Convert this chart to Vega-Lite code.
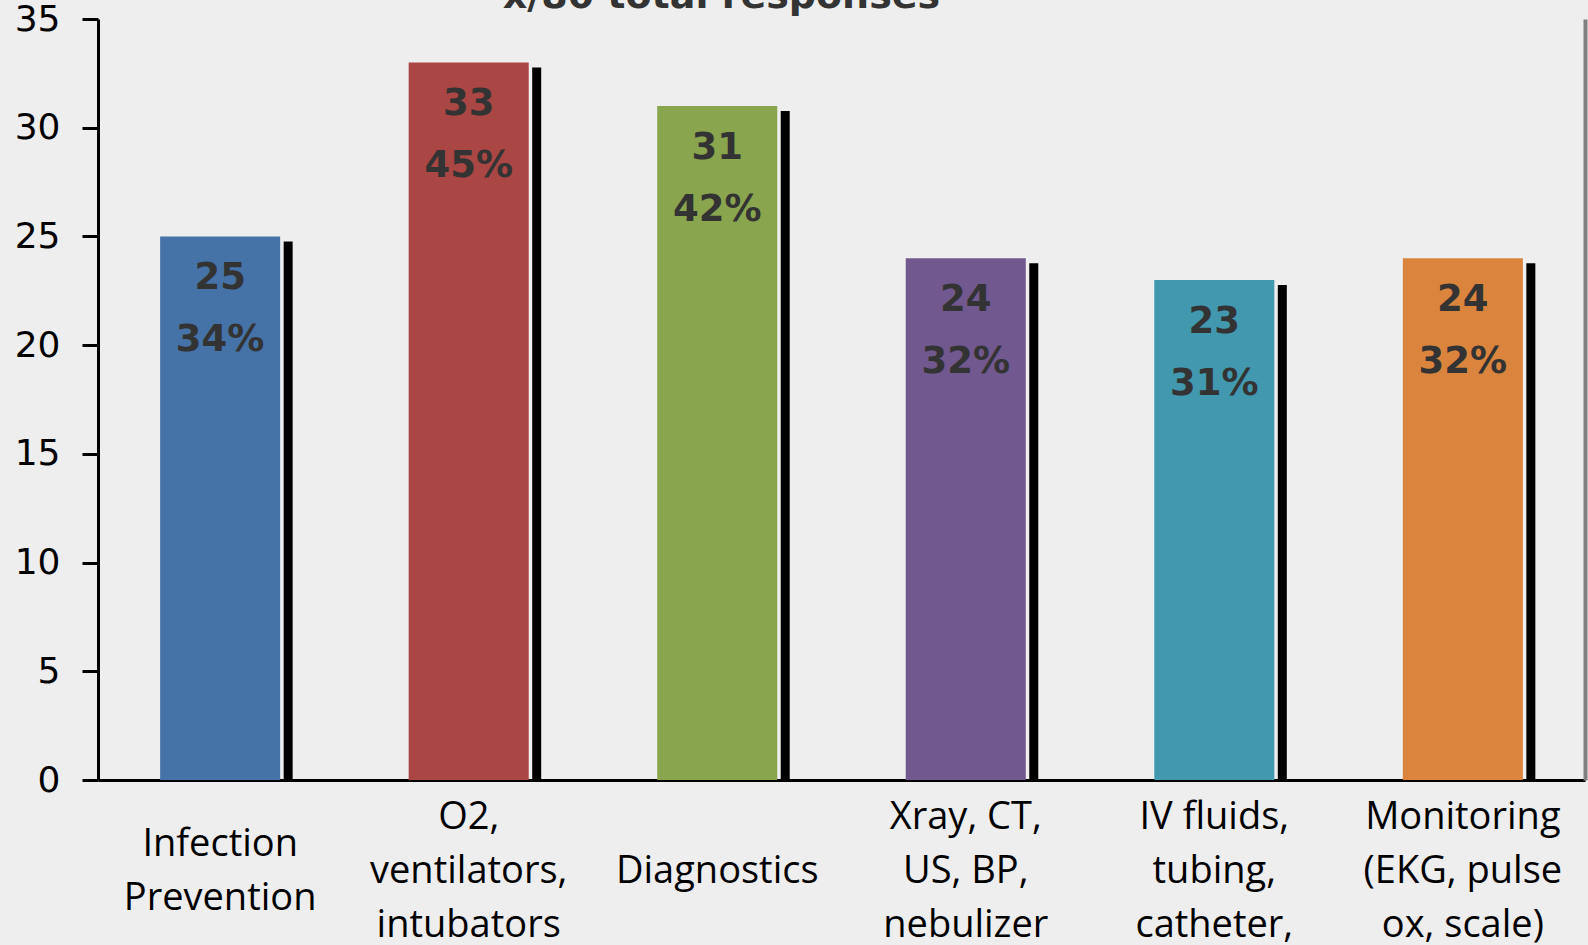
{
  "$schema": "https://vega.github.io/schema/vega-lite/v6.json",
  "width": 1487,
  "height": 761,
  "autosize": {"type": "none"},
  "padding": {"left": 98, "top": 19, "right": 3, "bottom": 165},
  "background": "#eeeeee",
  "config": {"view": {"stroke": null}},
  "title": {
    "text": "x/80 total responses",
    "font": "DejaVu Sans",
    "fontSize": 38,
    "fontWeight": "bold",
    "color": "#333333",
    "anchor": "middle",
    "frame": "group",
    "dx": -120,
    "dy": 45,
    "offset": 0,
    "baseline": "alphabetic"
  },
  "data": {
    "values": [
      {"category": "Infection|Prevention", "count": 25, "pct": "34%"},
      {"category": "O2,|ventilators,|intubators", "count": 33, "pct": "45%"},
      {"category": "Diagnostics", "count": 31, "pct": "42%"},
      {"category": "Xray, CT,|US, BP,|nebulizer", "count": 24, "pct": "32%"},
      {"category": "IV fluids,|tubing,|catheter,", "count": 23, "pct": "31%"},
      {"category": "Monitoring|(EKG, pulse|ox, scale)", "count": 24, "pct": "32%"}
    ]
  },
  "encoding": {
    "x": {
      "field": "category",
      "type": "nominal",
      "sort": null,
      "scale": {"paddingInner": 0.517, "paddingOuter": 0.25},
      "axis": {
        "title": null,
        "domainColor": "#000000",
        "domainWidth": 3,
        "ticks": false,
        "tickSize": 0,
        "labelAngle": 0,
        "labelFont": "Open Sans",
        "labelFontSize": 38,
        "labelColor": "#000000",
        "labelPadding": {
          "condition": [
            {"test": "length(split(datum.value, '|')) == 3", "value": 37},
            {"test": "length(split(datum.value, '|')) == 2", "value": 64}
          ],
          "value": 91
        },
        "labelBaseline": "middle",
        "labelLineHeight": 54,
        "labelLimit": 500,
        "labelOverlap": false,
        "labelExpr": "split(datum.label, '|')"
      }
    }
  },
  "layer": [
    {
      "mark": {"type": "bar"},
      "encoding": {
        "y": {
          "field": "count",
          "type": "quantitative",
          "scale": {"domain": [0, 35], "nice": false},
          "axis": {
            "orient": "left",
            "values": [0, 5, 10, 15, 20, 25, 30, 35],
            "title": null,
            "grid": false,
            "domainColor": "#000000",
            "domainWidth": 3,
            "tickColor": "#000000",
            "tickWidth": 3,
            "tickSize": 16,
            "labelFont": "DejaVu Sans",
            "labelFontSize": 36,
            "labelColor": "#000000",
            "labelPadding": 22
          }
        },
        "color": {
          "field": "category",
          "type": "nominal",
          "sort": null,
          "scale": {"range": ["#4572A7", "#AA4643", "#89A54E", "#71588F", "#4198AF", "#DB843D"]},
          "legend": null
        }
      }
    },
    {
      "mark": {"type": "bar", "width": 9, "xOffset": 68, "yOffset": 5, "y2Offset": 0, "color": "#000000"},
      "encoding": {
        "y": {
          "field": "count",
          "type": "quantitative",
          "axis": {
            "orient": "right",
            "title": null,
            "grid": false,
            "labels": false,
            "ticks": false,
            "domainColor": "#808080",
            "domainWidth": 4
          }
        },
        "y2": {"datum": 0}
      }
    },
    {
      "mark": {"type": "text", "dy": 42, "baseline": "middle", "align": "center", "font": "DejaVu Sans", "fontSize": 37, "fontWeight": "bold", "color": "#333333"},
      "encoding": {
        "y": {"field": "count", "type": "quantitative", "axis": null},
        "text": {"field": "count", "type": "quantitative"}
      }
    },
    {
      "mark": {"type": "text", "dy": 104, "baseline": "middle", "align": "center", "font": "DejaVu Sans", "fontSize": 37, "fontWeight": "bold", "color": "#333333"},
      "encoding": {
        "y": {"field": "count", "type": "quantitative", "axis": null},
        "text": {"field": "pct", "type": "nominal"}
      }
    }
  ],
  "resolve": {"axis": {"y": "independent"}}
}
